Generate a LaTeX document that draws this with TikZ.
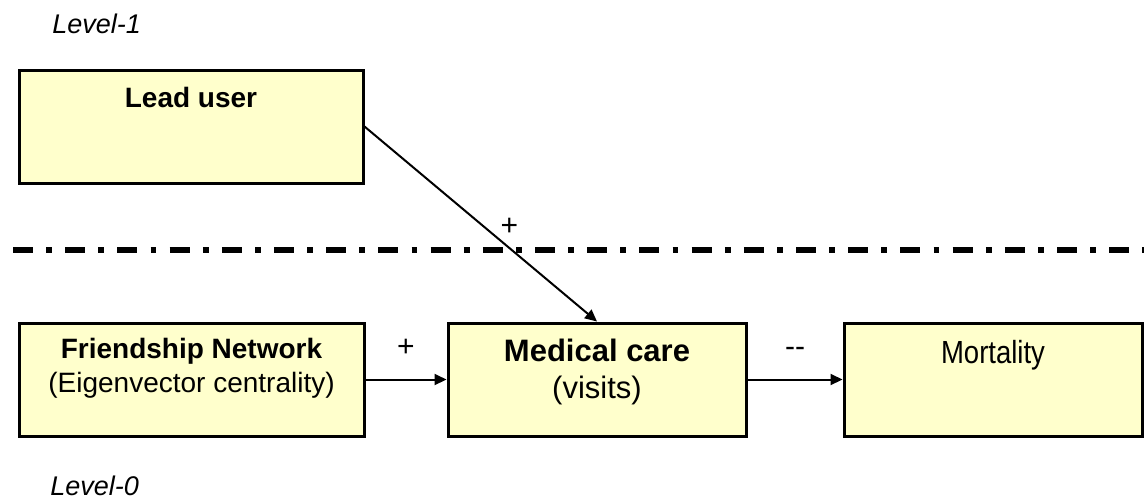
\documentclass[tikz,border=0pt]{standalone}
\usepackage{fontspec}
\setmainfont{Liberation Sans}
\newfontfamily\narrowfont[FakeStretch=0.86]{Liberation Sans}
\definecolor{boxyellow}{HTML}{FFFFCC}
\usetikzlibrary{arrows.meta, positioning}

\begin{document}
\begin{tikzpicture}[
  x=0.5pt, y=-0.5pt,
  box/.style={rectangle, draw=black, fill=boxyellow, line width=1.5pt,
    minimum width=#1, minimum height=56.5pt, inner sep=0pt},
  box/.default=172pt,
  txt/.style={anchor=base, inner sep=0pt, font=\fontsize{14}{17}\selectfont},
  lvl/.style={anchor=base west, inner sep=0pt,
    font=\fontsize{13.5}{16}\selectfont\itshape},
  arr/.style={-{Triangle[length=6pt,width=5.5pt]}, line width=1pt},
  lbl/.style={inner sep=0pt, font=\fontsize{15}{17}\selectfont},
  sep/.style={line width=3pt, dash pattern=on 10pt off 6.6pt on 2.9pt off 6.6pt}
]
  \useasboundingbox (0,0) rectangle (1144,499);

  % level labels
  \node[lvl] (lvone) at (52,33) {Level-1};
  \node[lvl] (lvzero) at (50,495) {Level-0};

  % boxes
  \node[box] (lead) at (191,126.5) {};
  \node[box=172.5pt] (friend) at (191.5,379.5) {};
  \node[box=149pt] (med) at (597,379.5) {};
  \node[box=149pt] (mort) at (993,379.5) {};

  % box texts
  \node[txt, font=\fontsize{14}{17}\selectfont\bfseries] (leadtxt) at (191,107) {Lead user};
  \node[txt, font=\fontsize{14}{17}\selectfont\bfseries] (friendtxt) at (191.5,358) {Friendship Network};
  \node[txt] (friendsub) at (191.5,392) {(Eigenvector centrality)};
  \node[txt, font=\fontsize{15.5}{18}\selectfont\bfseries] (medtxt) at (597,361) {Medical care};
  \node[txt, font=\fontsize{15.5}{18}\selectfont] (medsub) at (597,398) {(visits)};
  \node[txt, font=\fontsize{16}{18}\narrowfont] (morttxt) at (993,363) {Mortality};

  % level divider
  \coordinate (sepl) at (13,250);
  \coordinate (sepr) at (1144,250);
  \draw[sep] (sepl) -- (sepr);

  % paths
  \draw[arr] (lead.east) -- node[lbl, pos=0.55, xshift=8.5pt, yshift=3.5pt]{+} (med.north);
  \draw[arr] (friend.east) -- node[lbl, above=11pt]{+} (med.west);
  \draw[arr] (med.east) -- node[lbl, above=11pt]{\mbox{-}\mbox{-}} (mort.west);
\end{tikzpicture}
\end{document}
